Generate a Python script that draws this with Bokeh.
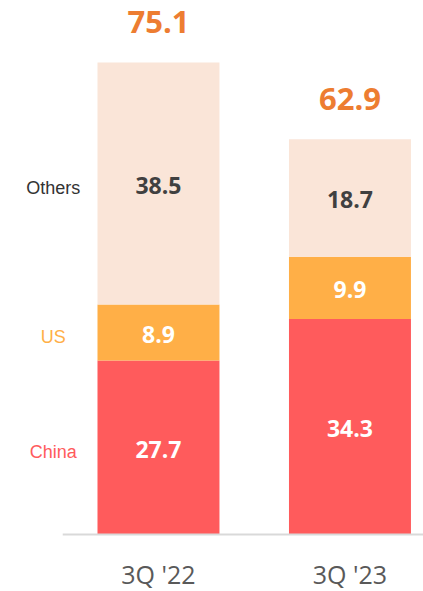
from bokeh.plotting import figure
from bokeh.models import Range1d, ColumnDataSource
from bokeh.core.properties import value
from bokeh.embed import file_html
from bokeh.resources import INLINE

# ---- data ----
periods = ["3Q '22", "3Q '23"]
series = ["China", "US", "Others"]
china = [27.7, 34.3]
us = [8.9, 9.9]
others = [38.5, 18.7]
totals = [75.1, 62.9]

colors = {"China": "#FF5B5C", "US": "#FFAF47", "Others": "#FAE5D8"}
label_colors = {"China": "#FF5B5C", "US": "#FFAF47", "Others": "#333333"}
value_colors = {"China": "white", "US": "white", "Others": "#404040"}

W, H = 423, 591
p = figure(width=W, height=H, output_backend="svg", toolbar_location=None,
           x_range=Range1d(-0.825, 1.384), y_range=Range1d(-9.07, 84.96),
           min_border=0, min_border_left=0, min_border_right=0,
           min_border_top=0, min_border_bottom=0)
p.axis.visible = False
p.grid.visible = False
p.outline_line_color = None
p.background_fill_color = "white"

xs = list(range(len(periods)))
src = ColumnDataSource(dict(x=xs, China=china, US=us, Others=others))
p.vbar_stack(series, x="x", width=0.637, source=src,
             color=[colors[s] for s in series], line_color=None)

# baseline axis line
p.segment(x0=[-0.5], y0=[0], x1=[1.384], y1=[0], line_color="#D9D9D9", line_width=2)

# segment value labels
data = {"China": china, "US": us, "Others": others}
for i in xs:
    base = 0.0
    for s in series:
        v = data[s][i]
        p.text(x=[i], y=[base + v / 2], text=[f"{v:.1f}"],
               text_align="center", text_baseline="middle", y_offset=2,
               text_font=value("Open Sans"), text_font_style="bold",
               text_font_size="23px", text_color=value_colors[s])
        base += v

# totals
p.text(x=xs, y=totals, text=[f"{t:.1f}" for t in totals],
       text_align="center", text_baseline="middle", y_offset=-40,
       text_font=value("Open Sans"), text_font_style="bold",
       text_font_size="31px", text_color="#ED7D31")

# series labels at left, aligned to first bar segments
base = 0.0
for s in series:
    v = data[s][0]
    p.text(x=[-0.55], y=[base + v / 2], text=[s],
           text_align="center", text_baseline="middle", y_offset=5,
           text_font=value("Liberation Sans"), text_font_size="18px",
           text_color=label_colors[s])
    base += v

# category labels
p.text(x=xs, y=[0, 0], text=periods, text_align="center", text_baseline="middle",
       y_offset=40, text_font=value("Open Sans"), text_font_size="25px",
       text_color="#595959")

open("out.html", "w").write(file_html(p, INLINE))
